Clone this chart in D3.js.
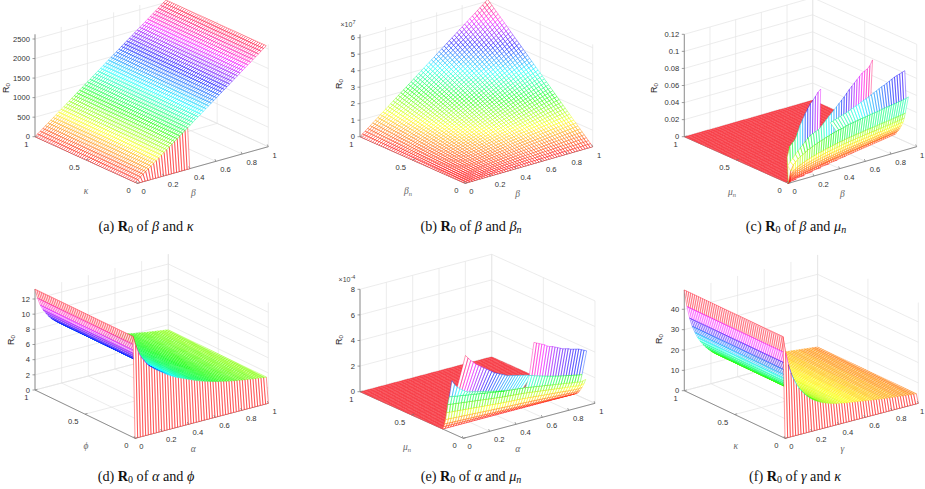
<!DOCTYPE html>
<html><head><meta charset="utf-8">
<style>html,body{margin:0;padding:0;background:#fff}svg{display:block}</style>
<script src="https://cdnjs.cloudflare.com/ajax/libs/d3/7.8.5/d3.min.js"></script></head>
<body><svg id="c" width="925" height="489"><defs><filter id="soft" x="-5%" y="-5%" width="110%" height="110%"><feGaussianBlur stdDeviation="0.3"/></filter></defs></svg>
<script>
// ---------- grid lines shared by every surface
const grid=[0,.02,.04,.06,.08,.1,.12,.14,.16,.18,.2,.22,.24,.26,.28,.3,.32,.34,.36,.38,.4,.42,.44,.46,.48,.5,.52,.54,.56,.58,.6,.62,.64,.66,.68,.7,.72,.74,.76,.78,.8,.82,.84,.86,.88,.9,.92,.94,.96,.98,1];
// ---------- (a) R0 along beta (same for every kappa > 0)
const r0BetaA=[0,51,102,154,205,256,307,358,410,461,512,563,614,666,717,768,819,870,922,973,1024,1075,1126,1178,1229,1280,1331,1382,1434,1485,1536,1587,1638,1690,1741,1792,1843,1894,1946,1997,2048,2099,2150,2202,2253,2304,2355,2406,2458,2509,2560];
const wallEndA=20;
// ---------- (b) R0 (x 1e7) peak and the two linear factors
const peakB=6.1;
const factorBetaB=[0,.02,.04,.06,.08,.1,.12,.14,.16,.18,.2,.22,.24,.26,.28,.3,.32,.34,.36,.38,.4,.42,.44,.46,.48,.5,.52,.54,.56,.58,.6,.62,.64,.66,.68,.7,.72,.74,.76,.78,.8,.82,.84,.86,.88,.9,.92,.94,.96,.98,1];
// ---------- (d) R0 along alpha
const r0AlphaD=[13.3,12.0,11.0,10.3,9.8,9.3,8.9,8.6,8.3,8.05,7.8,7.55,7.3,7.05,6.85,6.65,6.45,6.3,6.15,6.0,5.85,5.7,5.55,5.4,5.27,5.14,5.02,4.9,4.8,4.7,4.6,4.5,4.42,4.34,4.26,4.18,4.1,4.03,3.97,3.91,3.85,3.79,3.73,3.68,3.62,3.57,3.52,3.47,3.42,3.37,3.32];
// ---------- (f) R0 along gamma
const r0GammaF=[49.5,41,35,30.6,27.2,24.4,22.2,20.3,18.7,17.3,16.0,14.9,14,13.2,12.5,11.9,11.4,10.9,10.5,10.1,9.8,9.5,9.3,9.0,8.8,8.6,8.4,8.2,8.0,7.8,7.6,7.4,7.2,7.0,6.8,6.6,6.4,6.2,6.05,5.9,5.75,5.6,5.45,5.3,5.15,5,4.85,4.7,4.55,4.4,4.25];
// ---------- (c) fan of rows from the front corner, with three teeth
const fanSlopeC=[.2,.19,.175,.16,.145,.13,.12,.11,.08];
const fanGainC=[.004,.0075,.0095,.013,.017,.022,.027,.0335,.054];
const shapeBetaC=[0,.25,.36,.41,.46,.49,.52,.55,.58,.60,.62,.64,.66,.68,.69,.71,.725,.74,.755,.77,.78,.79,.80,.81,.825,.84,.845,.85,.855,.865,.87,.875,.88,.89,.895,.90,.905,.91,.915,.925,.93,.935,.94,.945,.95,.96,.965,.97,.98,.985,1];
const floorEdgeC=.25;
const toothC1=[.03,.042,.045,.048,.055,.063,.069,.075,.08,.085,.088,.092,.096,.0987];
const toothC2=[.018,.022,.025,.029,.032,.035,.038,.041,.044,.0465,.0475,.049,.05,.053,.056,.059,.062,.065,.068,.071,.074,.077,.08,.0835,.087,.09,.093,.096,.099,.102,.1035,.105,.108,.1138];
const toothC3=[.049,.05,.051,.052,.053,.054,.055,.056,.0575,.0587,.06,.061,.0625,.064,.065,.0665,.068,.0695,.071,.0725,.074,.075,.0765,.078,.0795,.081,.082,.083,.084,.085];
const toothStartC=[0,1,20], toothMuC=[.01,.03,.09];
// ---------- (e) rows near the front, with three teeth (x 1e-4)
const rowMuStartE=[.2,.19,.18,.17,.16,.15,.135];
const rowMuEndE=[.2,.18,.16,.145,.125,.105,.09];
const rowGainE=[0,.12,.25,.45,.75,1.1,1.45];
const shapeAlphaE=[1.9,1.88,1.86,1.84,1.82,1.80,1.78,1.76,1.74,1.72,1.70,1.68,1.66,1.64,1.62,1.60,1.58,1.56,1.54,1.52,1.50,1.49,1.48,1.46,1.45,1.44,1.43,1.41,1.40,1.38,1.36,1.34,1.32,1.30,1.28,1.26,1.24,1.22,1.20,1.18,1.16,1.14,1.12,1.10,1.08,1.06,1.04,1.02,1.00,1.02,1.06];
const floorEdgeE=.2;
const cyanRowE=[3.1,3.05,2.98,2.92,2.86,2.8,2.74,2.68,2.62,2.57,2.52,2.47,2.42,2.38,2.33,2.28,2.24,2.2,2.16,2.12,2.08];
const cyanStartE=28, cyanMuE=.075;
const toothE1=[4.1,3.75,3.5,3.3,3.15,3.0,2.9,2.85,2.8,2.75,2.7,2.65,2.6,2.55,2.5,2.45,2.4,2.35,2.3,2.25,2.2];
const toothE2=[6.25,6.0,5.75,5.55,5.35,5.2,5.05,4.9,4.75,4.6,4.45,4.3,4.2,4.1,4.0,3.9,3.8,3.75,3.7,3.65,3.6,3.55,3.5,3.45,3.4,3.3];
const toothE3=[5.85,5.75,5.65,5.55,5.45,5.3,5.2,5.15,5.05,4.95,4.85,4.75,4.7,4.65,4.55,4.5,4.45,4.4,4.3,4.2,4.1];
const toothStartE=[0,2,28], toothMuE=[.11,.03,.03];
// ---------- ticks
const xTicks=[0,.2,.4,.6,.8,1], yTicks=[0,.5,1];
const zTicksA=[0,500,1000,1500,2000,2500], zTicksB=[0,1,2,3,4,5,6], zTicksC=[0,.02,.04,.06,.08,.1,.12];
const zTicksD=[0,2,4,6,8,10,12], zTicksE=[0,2,4,6,8], zTicksF=[0,10,20,30,40];
const captions=[["(a) ","β","","κ",""],["(b) ","β","","β","n"],["(c) ","β","","μ","n"],["(d) ","α","","ϕ",""],["(e) ","α","","μ","n"],["(f) ","γ","","κ",""]];

const svg=d3.select("#c");
const FLAT="#f7434c";
const colour=t=>d3.hsl(Math.min(63,Math.max(0,Math.floor(t*64)))/64*360,1,.5).formatHex();

function frame(p){
  const xX=d3.scaleLinear([0,1],[0,p.right[0]-p.front[0]]),xY=d3.scaleLinear([0,1],[0,p.right[1]-p.front[1]]);
  const yX=d3.scaleLinear([0,1],[0,p.left[0]-p.front[0]]),yY=d3.scaleLinear([0,1],[0,p.left[1]-p.front[1]]);
  const zY=d3.scaleLinear([0,p.zRef],[0,-p.zRefPx]);
  return (x,y,z)=>[p.front[0]+xX(x)+yX(y),p.front[1]+xY(x)+yY(y)+zY(z)];
}
function strip(g,P,far,near,cmax,fill){
  const fillPath=d3.path(),byColour=new Map();
  const seg=(c,a,b)=>{if(!byColour.has(c))byColour.set(c,d3.path());const q=byColour.get(c);q.moveTo(a[0],a[1]);q.lineTo(b[0],b[1]);};
  for(let i=0;i<grid.length-1;i++){
    if(near.z[i]==null||near.z[i+1]==null||far.z[i]==null||far.z[i+1]==null)continue;
    const a=P(grid[i],near.y[i],near.z[i]),b=P(grid[i+1],near.y[i+1],near.z[i+1]),c=P(grid[i+1],far.y[i+1],far.z[i+1]),d=P(grid[i],far.y[i],far.z[i]);
    fillPath.moveTo(a[0],a[1]);fillPath.lineTo(b[0],b[1]);fillPath.lineTo(c[0],c[1]);fillPath.lineTo(d[0],d[1]);fillPath.closePath();
    if(fill){seg(fill,a,b);seg(fill,a,d);continue;}
    seg(colour(far.z[i]/cmax),d,c);
    seg(colour(near.z[i]/cmax),a,d);
    seg(colour(near.z[i+1]/cmax),b,c);
    seg(colour(near.z[i]/cmax),a,b);
  }
  g.append("path").attr("d",fillPath.toString()).attr("fill",fill||"#fff").attr("stroke","none");
  byColour.forEach((q,c)=>g.append("path").attr("d",q.toString()).attr("fill","none").attr("stroke",c).attr("stroke-width",.42));
}
function meshRows(g,P,rows,cmax,fill){for(let j=rows.length-1;j>0;j--)strip(g,P,rows[j],rows[j-1],cmax,fill);}

function axes(g,P,p){
  const gridG=g.append("g").attr("stroke","#e4e4e4").attr("stroke-width",.7).attr("fill","none");
  const ln=d3.line();
  const top=p.zTop;
  xTicks.forEach(v=>{gridG.append("path").attr("d",ln([P(v,0,0),P(v,1,0),P(v,1,top)]));});
  yTicks.forEach(v=>{gridG.append("path").attr("d",ln([P(0,v,0),P(1,v,0),P(1,v,top)]));});
  p.zTicks.forEach(v=>{gridG.append("path").attr("d",ln([P(0,1,v),P(1,1,v),P(1,0,v)]));});
  const ax=g.append("g").attr("stroke","#777").attr("stroke-width",.8).attr("fill","none");
  ax.append("path").attr("d",ln([P(0,1,0),P(0,0,0),P(1,0,0)]));
  ax.append("path").attr("d",ln([P(0,1,0),P(0,1,top)]));
}
function labels(g,P,p){
  const ax=g.append("g").attr("stroke","#777").attr("stroke-width",.7);
  const t=g.append("g").attr("font-family","Liberation Sans").attr("font-size",7.6).attr("fill","#333");
  xTicks.forEach(v=>{const a=P(v,0,0);
    ax.append("line").attr("x1",a[0]).attr("y1",a[1]).attr("x2",a[0]-1).attr("y2",a[1]-2.2);
    t.append("text").attr("x",Math.min(a[0]+4.3,920)).attr("y",a[1]+11).attr("text-anchor","start").text(v);});
  yTicks.forEach(v=>{const a=P(0,v,0);
    ax.append("line").attr("x1",a[0]).attr("y1",a[1]).attr("x2",a[0]+2.5).attr("y2",a[1]-.7);
    t.append("text").attr("x",a[0]-6.5).attr("y",a[1]+10).attr("text-anchor","end").text(v);});
  p.zTicks.forEach(v=>{const a=P(0,1,v);
    ax.append("line").attr("x1",a[0]).attr("y1",a[1]).attr("x2",a[0]-2.5).attr("y2",a[1]);
    t.append("text").attr("x",a[0]-5).attr("y",a[1]+2.7).attr("text-anchor","end").text(v);});
  const r=g.append("text").attr("transform",`translate(${p.r0[0]},${p.r0[1]}) rotate(-90)`).attr("text-anchor","middle").attr("font-family","Liberation Sans").attr("font-size",9).attr("fill","#222");
  r.append("tspan").text("R");r.append("tspan").attr("font-size",6.2).attr("dy",1.5).text("0");
  const sym=(pos,s,sub)=>{const e=g.append("text").attr("x",pos[0]).attr("y",pos[1]).attr("text-anchor","middle").attr("font-family","Liberation Serif").attr("font-style","italic").attr("font-size",9.5).attr("fill","#666");
    e.append("tspan").text(s);if(sub)e.append("tspan").attr("font-size",6.5).attr("dy",1.5).text(sub);};
  sym(p.xl,p.xs,p.xsub);sym(p.yl,p.ys,p.ysub);
  if(p.exp){const e=g.append("text").attr("x",p.expAt[0]).attr("y",p.expAt[1]).attr("text-anchor","middle").attr("font-family","Liberation Sans").attr("font-size",7).attr("fill","#444");
    e.append("tspan").text("×10");e.append("tspan").attr("font-size",5.5).attr("dy",-2.5).text(p.exp);}
}
function caption(c,x,y){
  const e=svg.append("text").attr("x",x).attr("y",y).attr("text-anchor","middle").attr("font-family","Liberation Serif").attr("font-size",14.2).attr("fill","#111");
  e.append("tspan").text(c[0]);
  e.append("tspan").attr("font-weight","bold").text("R");
  e.append("tspan").attr("font-size",10).attr("dy",2).text("0");
  e.append("tspan").attr("dy",-2).text(" of ");
  e.append("tspan").attr("font-style","italic").text(c[1]);
  e.append("tspan").text(" and ");
  e.append("tspan").attr("font-style","italic").text(c[3]);
  if(c[4])e.append("tspan").attr("font-style","italic").attr("font-size",10).attr("dy",2).text(c[4]);
}
const constRow=(y,z)=>({y:grid.map(()=>y),z});
const zeros=grid.map(()=>0);
function padded(vals,start){return grid.map((_,i)=>i>=start&&i<start+vals.length?vals[i-start]:null);}

const panels=[
 {front:[137.3,183.3],right:[268.3,146.7],left:[35,136.7],zRef:2500,zRefPx:97.7,zTop:2620,zTicks:zTicksA,r0:[8.5,88],xl:[193.3,196],yl:[86,194],xs:"β",ys:"κ",cmax:2560,
  rows(){return grid.map((y,j)=>constRow(y,j===0?r0BetaA.map((v,i)=>i<=wallEndA?0:null):r0BetaA));}},
 {front:[465,183.3],right:[592.7,146.7],left:[360,136.7],zRef:6,zRefPx:99,zTop:6.2,zTicks:zTicksB,r0:[341.5,84],xl:[517.7,196.5],yl:[408,194],xs:"β",ys:"β",ysub:"n",exp:"7",expAt:[348,26.5],cmax:peakB,
  rows(){return factorBetaB.map((fy,j)=>constRow(grid[j],factorBetaB.map(fx=>peakB*fx*fy)));}},
 {front:[788.3,183.3],right:[916.7,146.7],left:[684.3,136.7],zRef:.12,zRefPx:102.4,zTop:.12,zTicks:zTicksC,r0:[656.5,88],xl:[842.3,196.5],yl:[732,195],xs:"β",ys:"μ",ysub:"n",cmax:.12},
 {front:[135,438.3],right:[268.3,403.3],left:[35,390],zRef:12,zRefPx:91,zTop:13.3,zTicks:zTicksD,r0:[13.5,340],xl:[193.3,451.5],yl:[86,448.5],xs:"α",ys:"ϕ",cmax:13.3,
  rows(){return grid.map((y,j)=>constRow(y,j===0?zeros:r0AlphaD));}},
 {front:[463.3,438.3],right:[595,403.3],left:[360,391.7],zRef:8,zRefPx:102.4,zTop:8,zTicks:zTicksE,r0:[341.5,340],xl:[517.7,451.5],yl:[407,450],xs:"α",ys:"μ",ysub:"n",exp:"-4",expAt:[347,281.5],cmax:6.5},
 {front:[785,438.3],right:[918.3,403.3],left:[684.3,390.7],zRef:40,zRefPx:81.4,zTop:49.5,zTicks:zTicksF,r0:[661.5,339],xl:[842.3,451.5],yl:[735.7,448.5],xs:"γ",ys:"κ",cmax:49.5,
  rows(){return grid.map((y,j)=>constRow(y,j===0?zeros:r0GammaF));}}
];

panels.forEach((p,k)=>{
  const g=svg.append("g");
  const P=frame(p);
  axes(g,P,p);
  const s=g.append("g").attr("filter","url(#soft)");
  if(k===2){
    const floorRows=grid.map(y=>({y:grid.map(()=>y),z:grid.map(x=>y>=floorEdgeC*x?0:null)}));
    meshRows(s,P,floorRows,p.cmax,FLAT);
    const rows=fanSlopeC.map((m,j)=>({y:grid.map(x=>m*x),z:shapeBetaC.map(v=>fanGainC[j]*v)}));
    for(let j=0;j<rows.length-1;j++)strip(s,P,rows[j],rows[j+1],p.cmax);
    const base=rows[rows.length-1];
    [toothC1,toothC2,toothC3].forEach((t,n)=>strip(s,P,base,constRow(toothMuC[n],padded(t,toothStartC[n])),p.cmax));
  } else if(k===4){
    const floorRows=grid.map(y=>({y:grid.map(()=>y),z:grid.map(()=>y>=floorEdgeE?0:null)}));
    meshRows(s,P,floorRows,p.cmax,FLAT);
    const rows=rowGainE.map((gn,j)=>({y:grid.map(x=>rowMuStartE[j]+(rowMuEndE[j]-rowMuStartE[j])*x),z:shapeAlphaE.map(v=>gn*v)}));
    for(let j=0;j<rows.length-1;j++)strip(s,P,rows[j],rows[j+1],p.cmax);
    const base=rows[rows.length-1];
    const cyan=constRow(cyanMuE,padded(cyanRowE,cyanStartE));
    strip(s,P,base,constRow(toothMuE[1],padded(toothE2,toothStartE[1])),p.cmax);
    strip(s,P,base,cyan,p.cmax);
    strip(s,P,cyan,constRow(toothMuE[2],padded(toothE3,toothStartE[2])),p.cmax);
    strip(s,P,base,constRow(toothMuE[0],padded(toothE1,toothStartE[0])),p.cmax);
  } else {
    meshRows(s,P,p.rows(),p.cmax);
  }
  labels(g,P,p);
});
const capX=[146,471,796,146,471,795];
captions.forEach((c,i)=>caption(c,capX[i],i<3?231:481));
</script></body></html>
